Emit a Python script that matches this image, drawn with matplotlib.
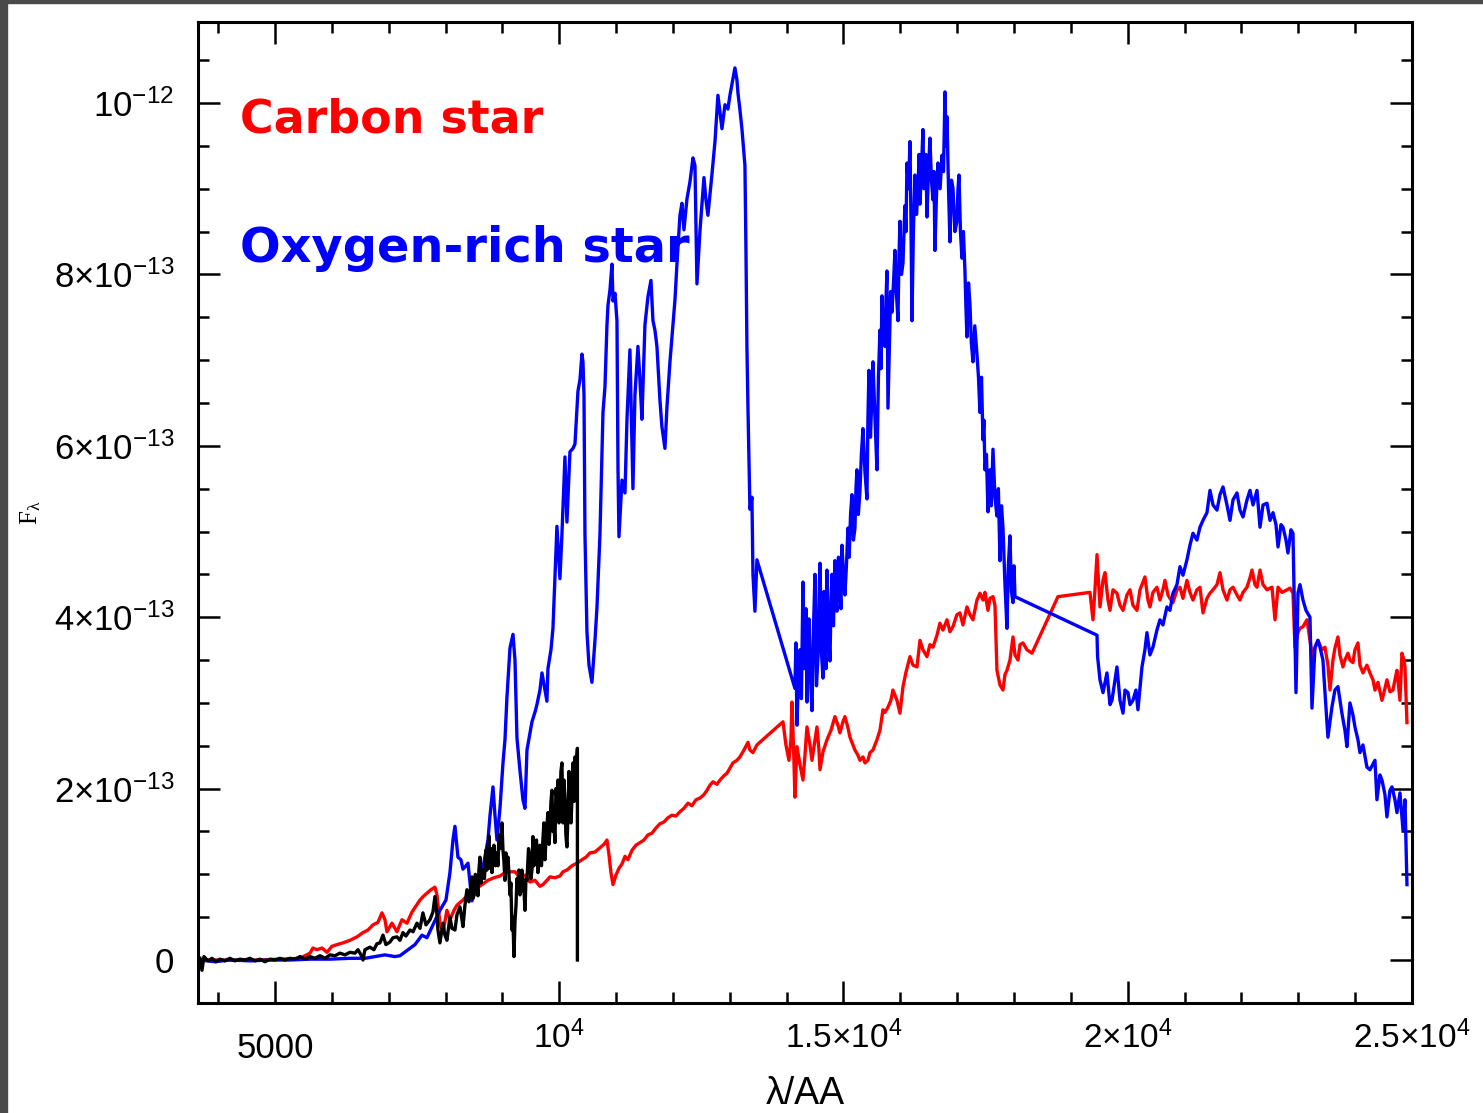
import matplotlib.pyplot as plt
from matplotlib.patches import Rectangle
from matplotlib.ticker import FixedLocator, MultipleLocator
from matplotlib.transforms import ScaledTranslation

plt.rcParams['font.family'] = ['Liberation Sans', 'DejaVu Sans']
plt.rcParams['mathtext.default'] = 'regular'

# Espectros (longitud de onda en Angstrom, flujo en unidades de 1e-13)
escala = 1e-13

# Estrella rica en oxigeno: tres tramos (visible, banda J-H, banda K)
o_wave_1 = [3681, 3945, 4208, 4560, 4912, 5264, 5616, 5967, 6319, 6583, 6759, 6935, 7111, 7199, 7340, 7463,
            7586, 7674, 7779, 7902, 8008, 8078, 8131, 8166, 8219, 8272, 8307, 8360, 8395, 8465, 8536, 8606,
            8676, 8747, 8782, 8835, 8870, 8905, 8958, 9011, 9046, 9081, 9134, 9187, 9222, 9257, 9310, 9362,
            9398, 9433, 9521, 9573, 9608, 9661, 9697, 9749, 9784, 9802, 9855, 9890, 9960, 10013, 10048, 10101,
            10136, 10189, 10242, 10277, 10330, 10365, 10400, 10418, 10436, 10453, 10488, 10524, 10576, 10629,
            10664, 10717, 10770, 10805, 10840, 10858, 10893, 10928, 10946, 10981, 11016, 11034, 11051, 11104,
            11157, 11192, 11244, 11297, 11332, 11385, 11420, 11455, 11508, 11561, 11614, 11649, 11684, 11719,
            11772, 11807, 11860, 11895, 11948, 12001, 12036, 12071, 12124, 12159, 12194, 12247, 12300, 12353,
            12388, 12423, 12476, 12546, 12581, 12616, 12687, 12740, 12792, 12863, 12916, 12968, 13003, 13039,
            13091, 13126, 13144, 13179, 13214, 13267, 13285, 13302, 13320, 13355, 13390, 13408, 13443, 13478]
o_flux_1 = [0.00, -0.02, 0.00, -0.01, 0.00, 0.00, 0.01, 0.01, 0.02, 0.02, 0.04, 0.06, 0.04, 0.05, 0.12, 0.18,
            0.29, 0.26, 0.41, 0.58, 0.70, 1.02, 1.40, 1.56, 1.20, 1.17, 1.06, 1.10, 1.13, 0.69, 0.82, 0.93,
            1.14, 1.40, 1.68, 2.02, 1.69, 1.40, 1.77, 2.30, 2.57, 3.07, 3.64, 3.80, 3.50, 2.59, 2.21, 1.87,
            1.77, 2.45, 2.78, 2.89, 2.98, 3.15, 3.35, 3.15, 3.02, 3.40, 3.62, 3.87, 5.06, 4.45, 4.97, 5.87,
            5.11, 5.93, 5.97, 6.02, 6.64, 6.77, 7.07, 6.98, 6.59, 4.97, 3.83, 3.44, 3.24, 3.73,
            4.11, 4.97, 6.39, 6.69, 7.41, 7.64, 7.82, 8.12, 7.69, 7.78, 7.46, 5.74, 4.94, 5.60,
            5.45, 6.31, 7.12, 5.50, 6.59, 7.16, 6.77, 6.31, 7.41, 7.74, 7.93, 7.46, 7.35, 7.16,
            6.53, 6.22, 5.97, 6.45, 6.98, 7.41, 7.70, 8.12, 8.69, 8.83, 8.52, 8.88, 9.08, 9.36,
            9.27, 7.89, 8.51, 9.13, 8.87, 8.69, 9.17, 9.55, 10.09, 9.70, 9.98, 9.93, 10.09, 10.22,
            10.41, 10.27, 10.12, 9.92, 9.70, 9.27, 8.28, 7.16, 6.45, 5.26, 5.40, 4.50, 4.07, 4.67]

o_wave_2 = [14146, 14164, 14182, 14208, 14235, 14260, 14288, 14305, 14323, 14340, 14358, 14375, 14393, 14420,
            14446, 14470, 14499, 14525, 14552, 14570, 14587, 14612, 14640, 14658, 14675, 14692, 14710, 14735,
            14762, 14780, 14798, 14824, 14850, 14868, 14886, 14912, 14938, 14956, 14974, 15000, 15026, 15052,
            15079, 15100, 15125, 15149, 15175, 15202, 15220, 15237, 15262, 15290, 15315, 15343, 15378, 15413,
            15430, 15448, 15475, 15501, 15519, 15550, 15589, 15615, 15642, 15660, 15677, 15705, 15730, 15748,
            15765, 15783, 15810, 15830, 15853, 15880, 15906, 15930, 15959, 15976, 15994, 16020, 16047, 16080,
            16100, 16117, 16145, 16170, 16188, 16205, 16230, 16258, 16285, 16311, 16330, 16346, 16370, 16398,
            16415, 16434, 16450, 16469, 16495, 16521, 16548, 16574, 16592, 16609, 16635, 16662, 16700, 16733,
            16760, 16786, 16805, 16821, 16848, 16873, 16900, 16926, 16960, 16996, 17015, 17032, 17058, 17084,
            17110, 17137, 17155, 17172, 17200, 17225, 17250, 17278, 17310, 17348, 17375, 17401, 17428, 17454,
            17470, 17489, 17515, 17542, 17560, 17577, 17600, 17630, 17665, 17700, 17725, 17753, 17780, 17806,
            17840, 17876, 17900, 17929, 17955, 17982, 18000, 18017]
o_flux_2 = [3.17, 3.70, 2.74, 3.30, 3.62, 3.05, 4.41, 3.40, 3.62, 4.10, 3.01, 3.60, 3.98, 3.30,
            2.91, 3.80, 4.50, 3.20, 3.54, 4.20, 4.63, 3.60, 3.29, 4.30, 3.73, 3.40, 4.55, 3.90,
            3.49, 4.10, 4.50, 3.90, 4.66, 4.20, 4.07, 4.70, 4.32, 4.10, 4.84, 4.50, 4.26, 4.60,
            5.04, 4.70, 5.20, 5.43, 4.90, 5.04, 5.50, 5.72, 5.20, 5.47, 5.90, 6.20, 5.70, 5.38,
            6.30, 6.88, 6.10, 6.59, 6.98, 6.40, 5.72, 6.80, 7.35, 6.90, 7.75, 7.30, 7.16, 7.70,
            8.04, 6.44, 7.20, 7.80, 7.56, 7.90, 8.28, 7.80, 7.46, 8.20, 8.62, 8.00, 8.13, 8.80,
            8.50, 9.30, 9.00, 9.55, 8.60, 7.46, 8.50, 9.16, 8.70, 8.98, 9.40, 8.82, 9.20, 9.69,
            9.00, 9.10, 9.40, 8.67, 9.20, 9.59, 9.10, 8.87, 9.20, 8.28, 8.90, 9.30, 9.00, 9.39,
            9.20, 10.13, 9.50, 9.84, 9.00, 8.38, 9.10, 9.01, 8.50, 8.62, 9.00, 9.16, 8.50, 8.19,
            8.50, 8.04, 7.60, 7.27, 7.90, 7.65, 7.20, 6.98, 7.40, 7.07, 6.80, 6.39, 6.80, 6.07,
            6.30, 5.72, 5.90, 5.23, 5.50, 5.72, 5.30, 5.96, 5.40, 5.18, 5.50, 4.66, 5.30, 5.04,
            4.40, 3.87, 4.60, 4.95, 4.30, 4.17, 4.60, 4.24]

o_wave_3 = [19460, 19470, 19512, 19565, 19635, 19688, 19723, 19776, 19811, 19864, 19917, 19952, 20005, 20040,
            20092, 20145, 20180, 20251, 20303, 20338, 20391, 20444, 20514, 20567, 20620, 20690, 20743, 20796,
            20866, 20919, 20972, 21042, 21095, 21148, 21218, 21271, 21324, 21394, 21447, 21500, 21570, 21623,
            21676, 21746, 21799, 21852, 21922, 21975, 22028, 22098, 22151, 22204, 22274, 22327, 22380, 22450,
            22503, 22556, 22608, 22644, 22696, 22732, 22784, 22819, 22872, 22907, 22925, 22960, 22995, 23030,
            23083, 23136, 23206, 23241, 23294, 23346, 23382, 23434, 23470, 23522, 23592, 23645, 23698, 23768,
            23821, 23856, 23909, 23962, 23997, 24050, 24085, 24138, 24208, 24261, 24349, 24384, 24437, 24472,
            24525, 24560, 24613, 24648, 24701, 24736, 24789, 24842, 24877, 24912]
o_flux_3 = [3.79, 3.54, 3.27, 3.12, 3.35, 2.98, 3.03, 3.27, 3.42, 3.03, 2.88, 3.15, 3.12, 2.98,
            3.03, 3.15, 2.92, 3.42, 3.62, 3.82, 3.56, 3.65, 3.85, 3.97, 3.91, 4.12, 4.08, 4.28,
            4.38, 4.59, 4.49, 4.67, 4.84, 4.98, 4.90, 5.05, 5.13, 5.22, 5.48, 5.31, 5.25, 5.43,
            5.52, 5.31, 5.13, 5.37, 5.45, 5.25, 5.17, 5.37, 5.48, 5.31, 5.48, 5.05, 5.31, 5.33,
            5.13, 5.22, 5.08, 4.82, 5.08, 5.05, 4.90, 4.75, 5.02, 4.98, 4.35, 3.12, 4.28, 4.38,
            4.20, 4.08, 4.00, 2.94, 3.65, 3.73, 3.65, 3.50, 3.12, 2.60, 2.95, 3.15, 3.19, 2.88,
            2.68, 2.49, 3.00, 2.86, 2.72, 2.57, 2.42, 2.51, 2.25, 2.22, 2.33, 1.87, 2.16, 2.10,
            1.93, 1.67, 1.98, 2.02, 1.87, 1.72, 1.95, 1.52, 1.87, 0.88]

# Estrella de carbono
c_wave = [3681, 4208, 4736, 5088, 5440, 5616, 5668, 5739, 5827, 5915, 6003, 6091, 6196, 6319, 6442, 6548,
          6636, 6724, 6812, 6882, 6935, 6970, 7058, 7146, 7234, 7322, 7410, 7480, 7551, 7621, 7674, 7744,
          7814, 7850, 7902, 7955, 8025, 8078, 8149, 8202, 8254, 8307, 8377, 8465, 8553, 8641, 8747, 8852,
          8958, 9046, 9134, 9222, 9310, 9398, 9485, 9573, 9661, 9714, 9784, 9837, 9925, 10013, 10066, 10136,
          10224, 10312, 10400, 10471, 10541, 10629, 10717, 10787, 10840, 10875, 10910, 10946, 10998, 11051,
          11104, 11157, 11209, 11280, 11350, 11420, 11491, 11561, 11631, 11702, 11772, 11842, 11913, 11983,
          12053, 12124, 12194, 12265, 12335, 12405, 12476, 12546, 12599, 12652, 12705, 12775, 12828, 12898,
          12951, 13003, 13056, 13126, 13179, 13250, 13320, 13355, 13408, 13478, 13936, 13988, 14041, 14076,
          14094, 14129, 14146, 14182, 14235, 14288, 14323, 14358, 14411, 14446, 14499, 14534, 14569, 14587,
          14640, 14710, 14780, 14850, 14903, 14938, 14991, 15026, 15079, 15114, 15167, 15202, 15255, 15290,
          15343, 15378, 15431, 15466, 15519, 15589, 15642, 15695, 15730, 15783, 15835, 15870, 15941, 15994,
          16047, 16100, 16170, 16223, 16293, 16346, 16398, 16469, 16521, 16574, 16645, 16697, 16750, 16821,
          16873, 16926, 16996, 17049, 17102, 17172, 17225, 17278, 17348, 17401, 17454, 17489, 17542, 17577,
          17630, 17665, 17700, 17753, 17806, 17841, 17876, 17929, 17982, 18017, 18070, 18105, 18157, 18228,
          18316, 18773, 19336, 19389, 19424, 19460, 19512, 19565, 19600, 19653, 19688, 19741, 19811, 19864,
          19917, 19987, 20040, 20092, 20163, 20216, 20268, 20303, 20356, 20391, 20444, 20514, 20567, 20620,
          20655, 20708, 20743, 20796, 20866, 20919, 20972, 21042, 21095, 21148, 21218, 21271, 21324, 21394,
          21447, 21500, 21570, 21623, 21676, 21746, 21799, 21852, 21922, 21975, 22028, 22098, 22151, 22186,
          22239, 22274, 22327, 22380, 22450, 22503, 22538, 22591, 22644, 22714, 22802, 22855, 22907, 22942,
          22995, 23030, 23083, 23153, 23206, 23259, 23294, 23346, 23417, 23470, 23522, 23558, 23610, 23645,
          23698, 23733, 23786, 23821, 23874, 23909, 23962, 23997, 24050, 24085, 24138, 24208, 24261, 24314,
          24349, 24402, 24472, 24525, 24560, 24613, 24666, 24701, 24736, 24789, 24824, 24859, 24877, 24912]
c_flux = [0.00, 0.00, 0.00, 0.01, 0.02, 0.08, 0.14, 0.12, 0.14, 0.09, 0.16, 0.18, 0.20, 0.23, 0.27, 0.32,
          0.35, 0.41, 0.44, 0.55, 0.47, 0.33, 0.43, 0.33, 0.47, 0.43, 0.56, 0.63, 0.70, 0.75, 0.78, 0.82,
          0.85, 0.76, 0.43, 0.32, 0.58, 0.47, 0.58, 0.64, 0.67, 0.70, 0.75, 0.79, 0.84, 0.88, 0.93, 0.96,
          0.98, 1.02, 1.03, 1.03, 0.96, 0.99, 0.91, 0.93, 0.86, 0.88, 0.93, 0.97, 0.96, 0.98, 1.03, 1.05,
          1.10, 1.13, 1.17, 1.20, 1.25, 1.26, 1.31, 1.35, 1.40, 1.23, 1.02, 0.88, 0.99, 1.07,
          1.12, 1.21, 1.17, 1.28, 1.34, 1.37, 1.40, 1.46, 1.48, 1.54, 1.59, 1.61, 1.66, 1.69,
          1.68, 1.73, 1.77, 1.83, 1.80, 1.87, 1.89, 1.93, 1.98, 2.04, 2.08, 2.05, 2.10, 2.15,
          2.18, 2.24, 2.30, 2.33, 2.37, 2.45, 2.54, 2.45, 2.42, 2.51, 2.78, 2.51, 2.33, 2.57,
          3.01, 2.33, 1.90, 2.49, 2.28, 2.10, 2.39, 2.72, 2.51, 2.33, 2.57, 2.72, 2.45, 2.22,
          2.43, 2.57, 2.68, 2.84, 2.74, 2.65, 2.78, 2.84, 2.71, 2.60, 2.51, 2.45, 2.39, 2.33,
          2.37, 2.30, 2.33, 2.42, 2.45, 2.57, 2.68, 2.92, 2.89, 2.95, 3.03, 3.15, 3.03, 2.88,
          3.19, 3.36, 3.54, 3.44, 3.42, 3.73, 3.62, 3.54, 3.68, 3.65, 3.79, 3.93, 3.85, 3.97,
          3.83, 3.89, 4.03, 4.05, 3.91, 4.12, 4.03, 3.97, 4.20, 4.28, 4.20, 4.29, 4.08, 4.22,
          4.24, 4.14, 3.38, 3.21, 3.15, 3.33, 3.38, 3.50, 3.77, 3.56, 3.50, 3.68, 3.70, 3.62,
          3.58, 4.24, 4.29, 3.97, 4.32, 4.73, 4.12, 4.43, 4.52, 4.20, 4.08, 4.32, 4.28, 4.14,
          4.08, 4.26, 4.32, 4.14, 4.08, 4.32, 4.41, 4.47, 4.20, 4.12, 4.29, 4.35, 4.20, 4.32,
          4.43, 4.26, 4.22, 4.17, 4.32, 4.35, 4.22, 4.43, 4.29, 4.20, 4.32, 4.35, 4.05, 4.22,
          4.28, 4.32, 4.38, 4.52, 4.32, 4.20, 4.32, 4.35, 4.26, 4.20, 4.29, 4.35, 4.46, 4.55,
          4.38, 4.35, 4.55, 4.38, 4.32, 4.34, 4.35, 3.97, 4.35, 4.29, 4.32, 4.34, 4.28, 3.65,
          3.82, 3.87, 3.89, 3.97, 3.73, 3.50, 3.64, 3.73, 3.62, 3.65, 3.44, 3.15, 3.50, 3.64,
          3.77, 3.56, 3.42, 3.50, 3.58, 3.50, 3.47, 3.62, 3.70, 3.44, 3.35, 3.44, 3.35, 3.27,
          3.15, 3.24, 3.03, 3.17, 3.27, 3.13, 3.15, 3.27, 3.38, 3.03, 3.58, 3.50, 3.42, 2.77]

# Espectro optico (negro)
k_wave = [3681, 3716, 3751, 3822, 3892, 3962, 4033, 4121, 4208, 4296, 4384, 4472, 4560, 4648, 4736, 4824,
          4912, 5000, 5088, 5176, 5264, 5352, 5440, 5528, 5616, 5704, 5792, 5880, 5967, 6055, 6143, 6231,
          6319, 6407, 6460, 6513, 6548, 6583, 6671, 6741, 6794, 6847, 6900, 6952, 7023, 7076, 7146, 7199,
          7252, 7304, 7375, 7428, 7498, 7551, 7603, 7656, 7726, 7779, 7814, 7850, 7867, 7902, 7955, 7990,
          8025, 8061, 8078, 8113, 8166, 8202, 8254, 8290, 8307, 8342, 8377, 8412,
          8465, 8483, 8500, 8525, 8553, 8570, 8588, 8606, 8624, 8641, 8659, 8685, 8711, 8730, 8747, 8765,
          8782, 8800, 8817, 8835, 8852, 8878, 8905, 8922, 8940, 8965, 8993, 9011, 9028, 9046, 9063, 9081,
          9099, 9116, 9134, 9150, 9169, 9185, 9204, 9222, 9240, 9257, 9275, 9292, 9310, 9328, 9345, 9362,
          9380, 9398, 9415, 9433, 9460, 9485, 9503, 9521, 9538, 9555, 9573, 9600, 9626, 9643, 9661, 9688,
          9714, 9730, 9749, 9775, 9802, 9820, 9837, 9855, 9872, 9890, 9908, 9925, 9943, 9960, 9978, 9995,
          10013, 10030, 10048, 10066, 10083, 10101, 10118, 10136, 10154, 10172, 10189, 10207, 10224, 10242,
          10260, 10277, 10294, 10305, 10320, 10320]
k_flux = [0.02, -0.12, 0.04, -0.01, 0.02, -0.02, 0.01, -0.01, 0.02, -0.01, 0.01, 0.00, 0.02, -0.01, 0.01, -0.02,
          0.01, 0.00, 0.02, 0.00, 0.02, 0.01, 0.04, 0.01, 0.04, 0.02, 0.05, 0.02, 0.06, 0.05, 0.08, 0.06,
          0.09, 0.08, 0.12, 0.06, 0.00, 0.12, 0.15, 0.12, 0.19, 0.20, 0.29, 0.18, 0.21, 0.26, 0.27, 0.23,
          0.32, 0.28, 0.35, 0.33, 0.43, 0.37, 0.55, 0.41, 0.47, 0.56, 0.74, 0.53, 0.35, 0.20, 0.43, 0.29,
          0.23, 0.41, 0.50, 0.37, 0.35, 0.53, 0.62, 0.47, 0.39, 0.64, 0.82, 0.68,
          0.97, 0.72, 0.76, 1.00, 0.90, 0.75, 1.05, 1.20, 0.90, 0.99, 1.05, 0.95, 1.28, 1.05, 1.32, 1.45,
          1.07, 1.30, 1.02, 1.20, 1.34, 1.10, 1.25, 1.10, 1.46, 1.30, 1.60, 1.28, 1.15, 0.93, 1.25, 1.11,
          1.20, 1.00, 0.76, 0.90, 0.35, 0.50, 0.04, 0.45, 0.64, 0.95, 0.85, 1.05, 0.76, 0.95, 1.05, 0.80,
          0.82, 0.58, 0.95, 0.93, 1.30, 1.20, 0.95, 1.05, 1.44, 1.10, 1.17, 1.40, 1.02, 1.25, 1.34, 1.10,
          1.40, 1.60, 1.17, 1.50, 1.72, 1.35, 1.52, 1.85, 1.98, 1.50, 1.58, 1.37, 2.00, 1.87, 2.10, 1.60,
          1.75, 2.20, 2.30, 1.60, 2.10, 1.87, 1.45, 1.32, 1.69, 2.20, 1.98, 1.60, 1.87, 2.30,
          1.85, 2.37, 1.98, 2.30, 2.47, 0.00]

o_wave = o_wave_1 + o_wave_2 + o_wave_3
o_flux = o_flux_1 + o_flux_2 + o_flux_3

# Figura
fig = plt.figure(figsize=(14.83, 11.13), dpi=100)
ax = fig.add_axes([0.1335, 0.0988, 0.8186, 0.8814])

ax.plot(c_wave, [f * escala for f in c_flux], color='#ff0000', lw=2.4)
ax.plot(o_wave, [f * escala for f in o_flux], color='#0000ff', lw=2.4)
ax.plot(k_wave, [f * escala for f in k_flux], color='black', lw=2.4)

ax.set_xlim(3646, 25000)
ax.set_ylim(-0.502e-13, 10.945e-13)

# Ejes y marcas
xt = [5000, 10000, 15000, 20000, 25000]
xt_lab = ['5000', '10$^4$', '1.5×10$^4$', '2×10$^4$', '2.5×10$^4$']
yt = [0, 2e-13, 4e-13, 6e-13, 8e-13, 1e-12]
yt_lab = ['0', '2×10$^{-13}$', '4×10$^{-13}$', '6×10$^{-13}$', '8×10$^{-13}$', '10$^{-12}$']

ax.xaxis.set_major_locator(FixedLocator(xt))
ax.set_xticklabels(xt_lab, fontsize=24)
ax.xaxis.set_minor_locator(MultipleLocator(1000))
ax.yaxis.set_major_locator(FixedLocator(yt))
ax.set_yticklabels(yt_lab, fontsize=25)
ax.yaxis.set_minor_locator(MultipleLocator(0.5e-13))

ax.tick_params(which='both', direction='in', top=True, right=True, width=1.8, color='black')
ax.tick_params(which='major', length=16, pad=13)
ax.tick_params(axis='y', which='major', pad=17)
ax.tick_params(which='minor', length=8)
for s in ax.spines.values():
    s.set_linewidth(2.2)

lab0 = ax.get_xticklabels()[0]
lab0.set_fontsize(25)
lab0.set_transform(lab0.get_transform() + ScaledTranslation(0, -8 / 72, fig.dpi_scale_trans))

ax.set_xlabel('λ/AA', fontsize=27)
ax.xaxis.set_label_coords(0.5, -0.074)
ax.set_ylabel(r'$F_\lambda$', fontsize=18, family='Liberation Serif')
ax.yaxis.set_label_coords(-0.128, 0.5)

ax.text(0.0346, 0.887, 'Carbon star', transform=ax.transAxes, color='#ff0000',
        fontsize=33, fontweight='bold', family='DejaVu Sans', va='baseline')
ax.text(0.0346, 0.755, 'Oxygen-rich star', transform=ax.transAxes, color='#0000ff',
        fontsize=34.5, fontweight='bold', family='DejaVu Sans', va='baseline')

# Marco gris
fig.patches.append(Rectangle((0, 0), 7 / 1483, 1, transform=fig.transFigure, color='#4a4a4a'))
fig.patches.append(Rectangle((0, 1 - 3 / 1113), 1, 3 / 1113, transform=fig.transFigure, color='#4a4a4a'))

fig.savefig('out.png', dpi=100)
